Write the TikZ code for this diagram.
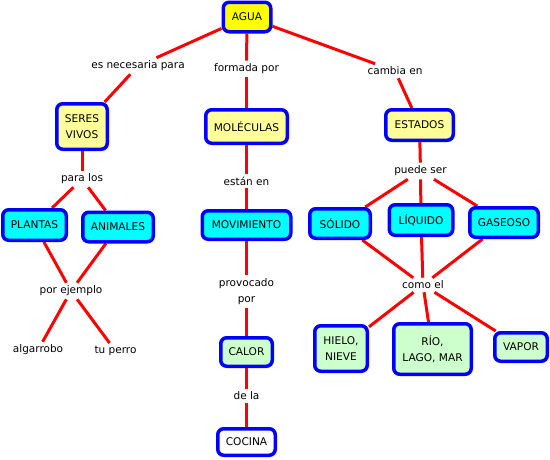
\documentclass[tikz,border=0pt]{standalone}
\usepackage{fontspec}
\setmainfont{DejaVu Sans}
\usetikzlibrary{backgrounds}
\definecolor{cblue}{HTML}{0000FF}
\definecolor{cred}{HTML}{FF0000}
\definecolor{cyel}{HTML}{FFFF00}
\definecolor{clyel}{HTML}{FFFF99}
\definecolor{ccyan}{HTML}{00FFFF}
\definecolor{cgreen}{HTML}{CCFFCC}
\tikzset{
  concept/.style={draw=cblue, line width=3.5pt, rounded corners=6pt, inner sep=0pt,
    align=center, font=\fontsize{10.6}{15.5}\selectfont, text=black},
  sz/.style 2 args={minimum width=#1pt-3.5pt, minimum height=#2pt-3.5pt},
  lbl/.style={inner sep=3pt, align=center, font=\fontsize{10.5}{15.5}\selectfont, text=black},
  link/.style={draw=cred, line width=3pt}
}
\begin{document}
\begin{tikzpicture}[x=1pt,y=-1pt]
\useasboundingbox (0,0) rectangle (550,459);
% concepts
\node[concept, fill=cyel, sz={51}{33}] (agua) at (247,17) {AGUA};
\node[concept, fill=clyel, sz={54}{49}] (seres) at (82,126.5) {SERES\\VIVOS};
\node[concept, fill=clyel, sz={85}{37}] (molec) at (246.5,126.5) {MOLÉCULAS};
\node[concept, fill=clyel, sz={71}{34}] (estados) at (419.5,125) {ESTADOS};
\node[concept, fill=ccyan, sz={67}{34}] (plantas) at (34.5,225) {PLANTAS};
\node[concept, fill=ccyan, sz={74}{33}] (animales) at (118,227) {ANIMALES};
\node[concept, fill=ccyan, sz={92}{32}] (movim) at (246.5,225) {MOVIMIENTO};
\node[concept, fill=ccyan, sz={64}{33}] (solido) at (340,223.5) {SÓLIDO};
\node[concept, fill=ccyan, sz={67}{34}] (liquido) at (421,220) {LÍQUIDO};
\node[concept, fill=ccyan, sz={72}{33}] (gaseoso) at (504,222.5) {GASEOSO};
\node[concept, fill=cgreen, sz={55}{32}] (calor) at (246.5,352) {CALOR};
\node[concept, fill=white, sz={61}{30}] (cocina) at (246.5,442) {COCINA};
\node[concept, fill=cgreen, sz={56}{49}] (hielo) at (341,348.5) {HIELO,\\NIEVE};
\node[concept, fill=cgreen, sz={81}{54}] (rio) at (432.5,349) {RÍO,\\LAGO, MAR};
\node[concept, fill=cgreen, sz={56}{32}] (vapor) at (521,347) {VAPOR};
% linking phrases
\node[lbl] (esnec) at (138,66) {es necesaria para};
\node[lbl] (formada) at (246.5,69) {formada por};
\node[lbl] (cambia) at (395,71) {cambia en};
\node[lbl] (paralos) at (82,179) {para los};
\node[lbl] (estan) at (246.5,181) {están en};
\node[lbl] (puede) at (420.5,171) {puede ser};
\node[lbl] (porej) at (71,291) {por ejemplo};
\node[lbl] (provoc) at (246.5,291.5) {provocado\\por};
\node[lbl] (comoel) at (423,285) {como el};
\node[lbl] (dela) at (246.5,396) {de la};
\node[lbl] (algarrobo) at (38,350) {algarrobo};
\node[lbl] (tuperro) at (115.5,351) {tu perro};
% connectors
\begin{scope}[on background layer]
\draw[link] (agua) -- (esnec);
\draw[link] (esnec) -- (seres);
\draw[link] (agua) -- (formada);
\draw[link] (formada) -- (molec);
\draw[link] (agua) -- (cambia);
\draw[link] (cambia) -- (estados);
\draw[link] (seres) -- (paralos);
\draw[link] (paralos) -- (plantas);
\draw[link] (paralos) -- (animales);
\draw[link] (plantas) -- (porej);
\draw[link] (animales) -- (porej);
\draw[link] (porej) -- (algarrobo);
\draw[link] (porej) -- (tuperro);
\draw[link] (molec) -- (estan);
\draw[link] (estan) -- (movim);
\draw[link] (movim) -- (provoc);
\draw[link] (provoc) -- (calor);
\draw[link] (calor) -- (dela);
\draw[link] (dela) -- (cocina);
\draw[link] (estados) -- (puede);
\draw[link] (puede) -- (solido);
\draw[link] (puede) -- (liquido);
\draw[link] (puede) -- (gaseoso);
\draw[link] (solido) -- (comoel);
\draw[link] (liquido) -- (comoel);
\draw[link] (gaseoso) -- (comoel);
\draw[link] (comoel) -- (hielo);
\draw[link] (comoel) -- (rio);
\draw[link] (comoel) -- (vapor);
\end{scope}
\end{tikzpicture}
\end{document}
